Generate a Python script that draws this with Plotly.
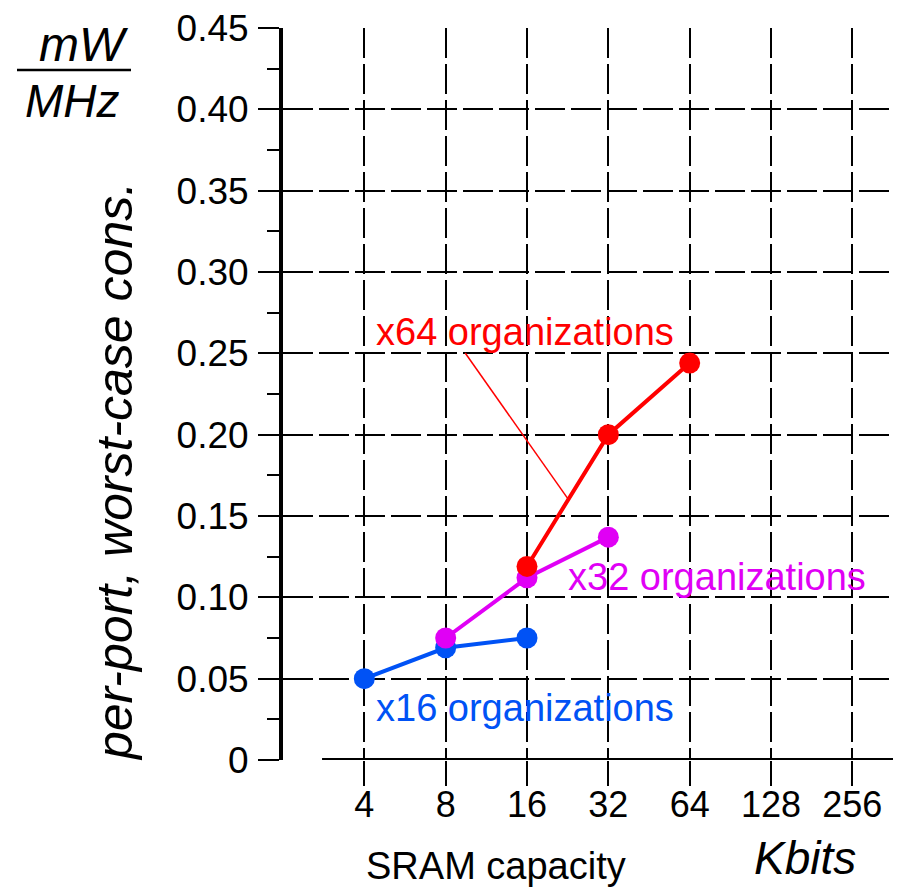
import numpy as np
import plotly.graph_objects as go

# ---- data ----
capacities = [4, 8, 16, 32, 64, 128, 256]          # Kbits (x tick labels)
x16_cap = [4, 8, 16]
x16_val = [0.050, 0.069, 0.075]
x32_cap = [8, 16, 32]
x32_val = [0.075, 0.112, 0.137]
x64_cap = [16, 32, 64]
x64_val = [0.119, 0.200, 0.244]
y_ticks = [0, 0.05, 0.10, 0.15, 0.20, 0.25, 0.30, 0.35, 0.40, 0.45]
y_ticktext = ["0", "0.05", "0.10", "0.15", "0.20", "0.25", "0.30", "0.35", "0.40", "0.45"]

BLUE = "#0052F5"
MAGENTA = "#E000F5"
RED = "#FF0000"
FONT = "Liberation Sans, Arial, sans-serif"

def lx(v):
    return np.log2(np.asarray(v, dtype=float))

fig = go.Figure()
for cap, val, col in [(x16_cap, x16_val, BLUE), (x32_cap, x32_val, MAGENTA), (x64_cap, x64_val, RED)]:
    fig.add_trace(go.Scatter(
        x=lx(cap), y=val, mode="lines+markers",
        line=dict(color=col, width=4),
        marker=dict(color=col, size=21),
        showlegend=False, hoverinfo="skip"))

fig.update_xaxes(
    range=[1, 8.5], tickmode="array", tickvals=lx(capacities),
    ticktext=[str(c) for c in capacities],
    showgrid=True, gridcolor="black", gridwidth=2, griddash="30px,6px",
    zeroline=False, showline=False,
    ticks="outside", ticklen=25, tickwidth=2, tickcolor="black",
    tickfont=dict(family=FONT, size=36, color="black"),
    ticklabelstandoff=-12,
)
fig.update_yaxes(
    range=[0, 0.45], tickmode="array", tickvals=y_ticks, ticktext=y_ticktext,
    showgrid=True, gridcolor="black", gridwidth=2, griddash="30px,6px",
    zeroline=True, zerolinecolor="white", zerolinewidth=4,
    showline=True, linecolor="black", linewidth=4,
    ticks="outside", ticklen=21, tickwidth=2, tickcolor="black",
    tickfont=dict(family=FONT, size=37, color="black"),
    minor=dict(dtick=0.025, tick0=0, ticks="outside", ticklen=12, tickwidth=2,
               tickcolor="black", showgrid=False),
    ticklabelstandoff=2,
)

# x axis line (starts right of the y axis)
fig.add_shape(type="line", xref="x", yref="y", x0=1.48, x1=8.5, y0=0, y1=0,
              line=dict(color="black", width=4), layer="above")
# leader line for x64 label
fig.add_shape(type="line", xref="x", yref="y", x0=3.24, y0=0.2502, x1=4.504, y1=0.1605,
              line=dict(color=RED, width=1.5), layer="above")

ann = [
    dict(text="x64 organizations", x=3.975, y=0.263, color=RED),
    dict(text="x32 organizations", x=6.34, y=0.1125, color=MAGENTA),
    dict(text="x16 organizations", x=3.975, y=0.032, color=BLUE),
]
for a in ann:
    fig.add_annotation(text=a["text"], x=a["x"], y=a["y"], xref="x", yref="y",
                       showarrow=False, xanchor="center", yanchor="middle",
                       font=dict(family=FONT, size=38, color=a["color"]))

W, H = 907, 890
L, R, T, B = 283, 14, 28, 130
pw, ph = W - L - R, H - T - B

def px(xp):
    return (xp - L) / pw

def py(yp):
    return (H - B - yp) / ph

fig.add_annotation(text="<i>per-port, worst-case cons.</i>", x=px(115), y=py(472),
                   xref="paper", yref="paper", showarrow=False, textangle=-90,
                   xanchor="center", yanchor="middle",
                   font=dict(family=FONT, size=50, color="black"))
fig.add_annotation(text="<i>mW</i>", x=px(84), y=py(44), xref="paper", yref="paper",
                   showarrow=False, xanchor="center", yanchor="middle",
                   font=dict(family=FONT, size=48, color="black"))
fig.add_annotation(text="<i>MHz</i>", x=px(72), y=py(101), xref="paper", yref="paper",
                   showarrow=False, xanchor="center", yanchor="middle",
                   font=dict(family=FONT, size=46, color="black"))
fig.add_shape(type="line", xref="paper", yref="paper", x0=px(17), x1=px(131),
              y0=py(70), y1=py(70), line=dict(color="black", width=2.5))
fig.add_annotation(text="SRAM capacity", x=px(496), y=py(866), xref="paper", yref="paper",
                   showarrow=False, xanchor="center", yanchor="middle",
                   font=dict(family=FONT, size=38, color="black"))
fig.add_annotation(text="<i>Kbits</i>", x=px(805), y=py(858), xref="paper", yref="paper",
                   showarrow=False, xanchor="center", yanchor="middle",
                   font=dict(family=FONT, size=46, color="black"))

fig.update_layout(
    width=W, height=H, margin=dict(l=L, r=R, t=T, b=B, autoexpand=False),
    paper_bgcolor="white", plot_bgcolor="white",
    font=dict(family=FONT, color="black"),
)

fig.write_html("out.html")
